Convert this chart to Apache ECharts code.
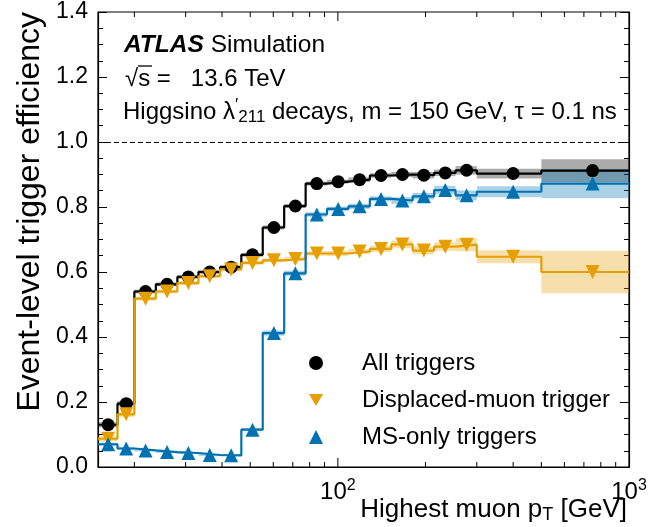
<!DOCTYPE html>
<html>
<head>
<meta charset="UTF-8">
<title>Event-level trigger efficiency</title>
<style>
  html, body { margin: 0; padding: 0; background: #fff; }
  #chart { width: 651px; height: 527px; }
</style>
<script src="https://cdn.jsdelivr.net/npm/echarts@6/dist/echarts.min.js"></script>
</head>
<body>
<div id="chart"></div>
<script>
// bin edges of the highest muon pT [GeV]
var binEdges = [15, 17.5, 20, 23.7, 28.1, 33.2, 39.4, 46.6, 55.2, 65.4, 77.5, 91.8,
                108.7, 128.8, 152.6, 180.7, 214.1, 253.6, 300, 500, 1000];

// efficiency per bin, and half width of the uncertainty band
var effAll  = [0.130, 0.195, 0.540, 0.562, 0.585, 0.600, 0.615, 0.653, 0.737, 0.803,
               0.872, 0.878, 0.884, 0.897, 0.900, 0.898, 0.905, 0.913, 0.903, 0.912];
var errAll  = [0.008, 0.008, 0.006, 0.006, 0.006, 0.006, 0.006, 0.006, 0.006, 0.006,
               0.006, 0.006, 0.007, 0.007, 0.008, 0.010, 0.010, 0.013, 0.015, 0.035];
var effDisp = [0.087, 0.162, 0.518, 0.540, 0.566, 0.587, 0.608, 0.628, 0.636, 0.640,
               0.657, 0.657, 0.663, 0.671, 0.685, 0.666, 0.678, 0.684, 0.647, 0.600];
var errDisp = [0.008, 0.008, 0.006, 0.006, 0.006, 0.006, 0.006, 0.006, 0.006, 0.007,
               0.007, 0.008, 0.008, 0.010, 0.012, 0.012, 0.013, 0.020, 0.020, 0.065];
var effMS   = [0.070, 0.057, 0.051, 0.046, 0.043, 0.037, 0.036, 0.115, 0.412, 0.596,
               0.777, 0.794, 0.802, 0.825, 0.820, 0.833, 0.852, 0.836, 0.847, 0.872];
var errMS   = [0.005, 0.004, 0.003, 0.003, 0.003, 0.003, 0.003, 0.005, 0.008, 0.008,
               0.007, 0.007, 0.008, 0.008, 0.010, 0.010, 0.013, 0.015, 0.017, 0.045];

var seriesNames = ['All triggers', 'Displaced-muon trigger', 'MS-only triggers'];

// x ticks (log axis): major and minor
var xMajorTicks = [100];
var xMinorTicks = [20, 30, 40, 50, 60, 70, 80, 90, 200, 300, 400, 500, 600, 700, 800, 900];

var FONT = '"Liberation Sans", Arial, Helvetica, sans-serif';
var cBlack = '#000000', cOrange = '#E69F00', cBlue = '#0072B2';
var downTriangle = 'path://M0,0L2,0L1,1.732Z';

function stepData(eff) {
  return binEdges.map(function (e, i) {
    return [e, eff[Math.min(i, eff.length - 1)]];
  });
}
function centerData(eff) {
  return eff.map(function (v, i) {
    return [(binEdges[i] + binEdges[i + 1]) / 2, v];
  });
}
function bandData(eff, err) {
  return eff.map(function (v, i) {
    return [binEdges[i], binEdges[i + 1], v - err[i], v + err[i]];
  });
}

function bandSeries(eff, err, fill) {
  return {
    type: 'custom',
    silent: true,
    z: 1,
    data: bandData(eff, err),
    encode: { x: [0, 1], y: [2, 3] },
    renderItem: function (params, api) {
      var p0 = api.coord([api.value(0), api.value(3)]);
      var p1 = api.coord([api.value(1), api.value(2)]);
      return {
        type: 'rect',
        shape: { x: p0[0], y: p0[1], width: p1[0] - p0[0], height: p1[1] - p0[1] },
        style: { fill: fill }
      };
    }
  };
}

function stepSeries(eff, color, name) {
  return {
    type: 'line',
    name: name,
    step: 'end',
    showSymbol: false,
    silent: true,
    z: 3,
    data: stepData(eff),
    lineStyle: { color: color, width: 2.2 },
    itemStyle: { color: color }
  };
}

function markerSeries(eff, color, name, symbol, size, rotate) {
  return {
    type: 'scatter',
    name: name,
    symbol: symbol,
    symbolSize: size,
    symbolRotate: rotate || 0,
    z: 5,
    data: centerData(eff),
    itemStyle: { color: color, opacity: 1 }
  };
}

var chart = echarts.init(document.getElementById('chart'));

var option = {
  animation: false,
  textStyle: { fontFamily: FONT },
  grid: { left: 98, right: 22, top: 12, bottom: 60, show: true, borderColor: '#000', borderWidth: 1.2 },
  xAxis: {
    type: 'log',
    logBase: 10,
    min: 15,
    max: 1000,
    axisLine: { show: true, lineStyle: { color: '#000', width: 1.2 } },
    axisTick: { show: false },
    minorTick: { show: false },
    splitLine: { show: false },
    axisLabel: {
      color: '#000',
      fontSize: 24,
      fontFamily: FONT,
      margin: 11,
      formatter: function (v) {
        var l = Math.log(v) / Math.LN10;
        if (Math.abs(l - Math.round(l)) < 1e-6 && Math.round(l) >= 2) {
          return '10{sup|' + Math.round(l) + '}';
        }
        return '';
      },
      rich: {
        sup: { fontSize: 16, fontFamily: FONT, color: '#000', padding: [0, 0, 13, 0] }
      }
    }
  },
  yAxis: [{
    type: 'value',
    min: 0,
    max: 1.4,
    interval: 0.2,
    axisLine: { show: true, lineStyle: { color: '#000', width: 1.2 } },
    axisTick: { show: true, inside: true, length: 9, lineStyle: { color: '#000' } },
    minorTick: { show: true, splitNumber: 4, length: 5, lineStyle: { color: '#000' } },
    splitLine: { show: false },
    axisLabel: {
      color: '#000', fontSize: 23, fontFamily: FONT, margin: 10,
      formatter: function (v) { return v.toFixed(1); }
    }
  }, {
    type: 'value',
    position: 'right',
    min: 0,
    max: 1.4,
    interval: 0.2,
    axisLine: { show: true, lineStyle: { color: '#000', width: 1.2 } },
    axisTick: { show: true, inside: true, length: 9, lineStyle: { color: '#000' } },
    minorTick: { show: true, splitNumber: 4, length: 5, lineStyle: { color: '#000' } },
    splitLine: { show: false },
    axisLabel: { show: false }
  }],
  legend: {
    orient: 'vertical',
    left: 304,
    top: 346,
    itemWidth: 14,
    itemHeight: 14,
    itemGap: 13,
    symbolKeepAspect: true,
    data: [
      { name: seriesNames[0], icon: 'circle' },
      { name: seriesNames[1], icon: downTriangle },
      { name: seriesNames[2], icon: 'triangle' }
    ],
    textStyle: { fontSize: 24, color: '#000', fontFamily: FONT, padding: [0, 0, 0, 34] }
  },
  graphic: [
    {
      type: 'text', x: 124, y: 45,
      style: {
        text: '{b|ATLAS} Simulation',
        fontSize: 24.5, fontFamily: FONT, fill: '#000', verticalAlign: 'middle',
        rich: { b: { fontSize: 24.5, fontFamily: FONT, fontWeight: 'bold', fontStyle: 'italic' } }
      }
    },
    {
      type: 'text', x: 125, y: 79,
      style: { text: '\u221As =   13.6 TeV', fontSize: 24, fontFamily: FONT, fill: '#000', verticalAlign: 'middle' }
    },
    {
      type: 'line', shape: { x1: 138, y1: 66, x2: 152, y2: 66 },
      style: { stroke: '#000', lineWidth: 1.3 }
    },
    {
      type: 'text', x: 123, y: 112,
      style: {
        text: 'Higgsino \u03BB{sup|\u2032}{sub|211} decays, m = 150 GeV, \u03C4 = 0.1 ns',
        fontSize: 24, fontFamily: FONT, fill: '#000', verticalAlign: 'middle',
        rich: {
          sup: { fontSize: 17, fontFamily: FONT, padding: [0, 0, 13, 0] },
          sub: { fontSize: 17, fontFamily: FONT, padding: [11, 0, 0, 0] }
        }
      }
    },
    {
      type: 'text', x: 627, y: 510,
      style: {
        text: 'Highest muon p{sub|T} [GeV]',
        fontSize: 26, fontFamily: FONT, fill: '#000', align: 'right', verticalAlign: 'middle',
        rich: { sub: { fontSize: 18, fontFamily: FONT, padding: [11, 0, 0, 0] } }
      }
    },
    {
      type: 'text', x: 30, y: 12, rotation: Math.PI / 2,
      style: {
        text: 'Event-level trigger efficiency',
        fontSize: 32, fontFamily: FONT, fill: '#000', align: 'right', verticalAlign: 'middle'
      }
    }
  ],
  series: [
    bandSeries(effAll, errAll, 'rgba(0,0,0,0.33)'),
    bandSeries(effDisp, errDisp, 'rgba(230,159,0,0.33)'),
    bandSeries(effMS, errMS, 'rgba(0,114,178,0.33)'),
    (function () {
      var s = stepSeries(effAll, cBlack, 'all-step');
      s.markLine = {
        silent: true, symbol: 'none', label: { show: false },
        lineStyle: { color: '#000', width: 1, type: [5, 3] },
        data: [{ yAxis: 1 }]
      };
      return s;
    })(),
    stepSeries(effDisp, cOrange, 'disp-step'),
    stepSeries(effMS, cBlue, 'ms-step'),
    markerSeries(effAll, cBlack, seriesNames[0], 'circle', 13),
    markerSeries(effDisp, cOrange, seriesNames[1], 'triangle', 14, 180),
    markerSeries(effMS, cBlue, seriesNames[2], 'triangle', 14),
    {
      type: 'custom',
      silent: true,
      z: 10,
      clip: false,
      data: xMinorTicks.concat(xMajorTicks).map(function (v) { return [v, 0]; }),
      encode: { x: 0, y: 1 },
      renderItem: function (params, api) {
        var v = api.value(0);
        var len = xMajorTicks.indexOf(v) >= 0 ? 9 : 5;
        var b = api.coord([v, 0]);
        var t = api.coord([v, 1.4]);
        return {
          type: 'group',
          children: [
            { type: 'line', shape: { x1: b[0], y1: b[1], x2: b[0], y2: b[1] - len }, style: { stroke: '#000', lineWidth: 1 } },
            { type: 'line', shape: { x1: t[0], y1: t[1], x2: t[0], y2: t[1] + len }, style: { stroke: '#000', lineWidth: 1 } }
          ]
        };
      }
    }
  ]
};

chart.setOption(option);
</script>
</body>
</html>
